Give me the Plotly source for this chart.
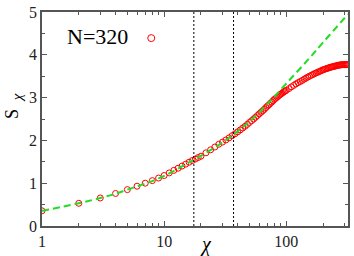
import plotly.graph_objects as go

# ---- data ----
chi = (list(range(1, 21)) + list(range(22, 41, 2)) + list(range(42, 101, 2))
       + list(range(105, 321, 5)))
s_chi = [0.355, 0.53, 0.655, 0.76, 0.85, 0.93, 1.0, 1.06, 1.12, 1.18,
         1.24, 1.30, 1.35, 1.40, 1.445, 1.49, 1.53, 1.565, 1.60, 1.63,
         1.71, 1.78, 1.845, 1.91, 1.96, 2.01, 2.06, 2.11, 2.155, 2.20,
         2.245, 2.29, 2.33, 2.375, 2.42, 2.46, 2.50, 2.54, 2.58, 2.62,
         2.655, 2.69, 2.725, 2.765, 2.80, 2.83, 2.865, 2.895, 2.93, 2.96,
         2.985, 3.01, 3.035, 3.06, 3.08, 3.10, 3.12, 3.14, 3.155, 3.17,
         3.21, 3.25, 3.285, 3.32, 3.35, 3.375, 3.40, 3.43, 3.455, 3.48,
         3.50, 3.52, 3.54, 3.56, 3.575, 3.59, 3.605, 3.62, 3.635, 3.65,
         3.66, 3.67, 3.68, 3.69, 3.70, 3.71, 3.715, 3.72, 3.73, 3.735,
         3.74, 3.75, 3.755, 3.76, 3.762, 3.765, 3.767, 3.77, 3.77, 3.77,
         3.77, 3.77, 3.77, 3.77]

fit_chi = [1, 2, 3, 4, 5, 7, 10, 15, 20, 30, 40, 50, 70, 100, 150, 200, 320]
fit_s = [0.355, 0.53, 0.655, 0.755, 0.85, 0.99, 1.17, 1.44, 1.64, 1.95,
         2.21, 2.44, 2.85, 3.33, 3.88, 4.29, 4.95]

vlines = [17.5, 37.0]
legend_label = "N=320"
x_ticks = [1, 10, 100]
y_ticks = [0, 1, 2, 3, 4, 5]

SERIF = "Liberation Serif, Times New Roman, serif"
AX = "#555555"

fig = go.Figure()
fig.add_trace(go.Scatter(
    x=chi, y=s_chi, mode="markers",
    marker=dict(symbol="circle-open", size=6, color="#ff0000",
                line=dict(color="#ff0000", width=1)),
    showlegend=False))
fig.add_trace(go.Scatter(
    x=fit_chi, y=fit_s, mode="lines", line_shape="spline",
    line=dict(color="#22dd22", width=2, dash="7px,4px"),
    showlegend=False))
for v in vlines:
    fig.add_trace(go.Scatter(
        x=[v, v], y=[0, 5], mode="lines",
        line=dict(color="black", width=1, dash="2px,2px"),
        showlegend=False))

fig.update_xaxes(
    type="log", range=[0, 2.505], tickvals=x_ticks,
    ticktext=[str(t) for t in x_ticks],
    ticks="inside", ticklen=5, tickcolor=AX, mirror="allticks",
    showline=True, linecolor=AX, linewidth=1.5, showgrid=False, zeroline=False,
    tickfont=dict(family=SERIF, size=16, color="#222"),
    ticklabeloverflow="allow",
    minor=dict(ticks="inside", ticklen=3, tickcolor=AX,
               tickvals=[2, 3, 4, 5, 6, 7, 8, 9, 20, 30, 40, 50, 60, 70, 80, 90, 200, 300]),
)
fig.update_yaxes(
    range=[0, 5], tickvals=y_ticks,
    ticks="inside", ticklen=5, tickcolor=AX, mirror="allticks",
    showline=True, linecolor=AX, linewidth=1.5, showgrid=False, zeroline=False,
    tickfont=dict(family=SERIF, size=16, color="#222"),
    ticklabeloverflow="allow",
    minor=dict(ticks="inside", ticklen=3, tickcolor=AX, dtick=0.5),
)

fig.add_annotation(x=0.183, y=0.887, xref="paper", yref="paper",
                   xanchor="center", yanchor="middle",
                   text=legend_label, showarrow=False,
                   font=dict(family=SERIF, size=22, color="black"))
fig.add_shape(type="circle", xref="paper", yref="paper",
              xsizemode="pixel", ysizemode="pixel",
              xanchor=0.357, yanchor=0.878, x0=-3.5, x1=3.5, y0=-3.5, y1=3.5,
              line=dict(color="#ff0000", width=1))
fig.add_annotation(x=0.536, y=-0.086, xref="paper", yref="paper",
                   xanchor="center", yanchor="middle",
                   text="<i>χ</i>", showarrow=False,
                   font=dict(family=SERIF, size=20, color="black"))
fig.add_annotation(x=-0.10, y=0.525, xref="paper", yref="paper",
                   xanchor="center", yanchor="middle",
                   text="S", textangle=-90, showarrow=False,
                   font=dict(family=SERIF, size=18, color="black"))
fig.add_annotation(x=-0.083, y=0.6, xref="paper", yref="paper",
                   xanchor="center", yanchor="middle",
                   text="<i>χ</i>", textangle=-90, showarrow=False,
                   font=dict(family=SERIF, size=15, color="black"))

fig.update_layout(
    width=354, height=256,
    margin=dict(l=42, r=4, t=5, b=30),
    plot_bgcolor="white", paper_bgcolor="white",
)
fig.write_html("out.html", config={"displayModeBar": False},
               post_script="document.body.style.margin='0';document.body.style.padding='0';")
